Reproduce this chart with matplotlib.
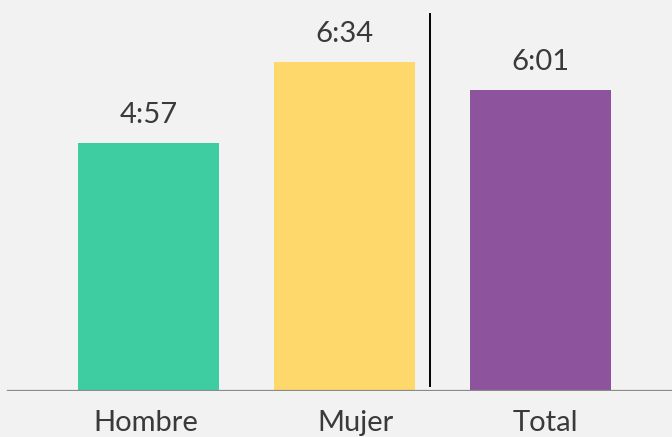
import matplotlib.pyplot as plt

# tiempo promedio (minutos)
categorias = ["Hombre", "Mujer", "Total"]
minutos = [297, 394, 361]
etiquetas = ["4:57", "6:34", "6:01"]
colores = ["#3ecda1", "#fed86a", "#8d539c"]

plt.rcParams['font.family'] = ['Lato', 'DejaVu Sans']

fig = plt.figure(figsize=(6.72, 4.37), dpi=100)
fig.patch.set_facecolor("#f2f2f2")
ax = fig.add_axes([0, 46 / 437, 1, 391 / 437])
ax.set_facecolor("#f2f2f2")

x = list(range(len(categorias)))
ax.bar(x, minutos, width=0.72, color=colores, zorder=2)

for xi, v, lab in zip(x, minutos, etiquetas):
    ax.text(xi, v + 18, lab, ha="center", va="bottom", fontsize=21, color="#3a3a3a")

ax.set_xlim(-0.758, 2.671)
ax.set_ylim(0, 468.3)

# linea base y separador
ax.axhline(0, xmin=8 / 672, color="#8a8a8a", lw=1.6, zorder=3)
ax.plot([1.436, 1.436], [6, 452], color="black", lw=1.4, zorder=3)

for s in ax.spines.values():
    s.set_visible(False)
ax.set_yticks([])
# las etiquetas no estan del todo centradas en el original
desfase = [-0.015, 0.055, 0.025]
ax.set_xticks([xi + d for xi, d in zip(x, desfase)])
ax.set_xticklabels(categorias, fontsize=21, color="#3a3a3a")
ax.tick_params(axis="x", length=0, pad=14)

fig.savefig("out.png", dpi=100, facecolor=fig.get_facecolor())
